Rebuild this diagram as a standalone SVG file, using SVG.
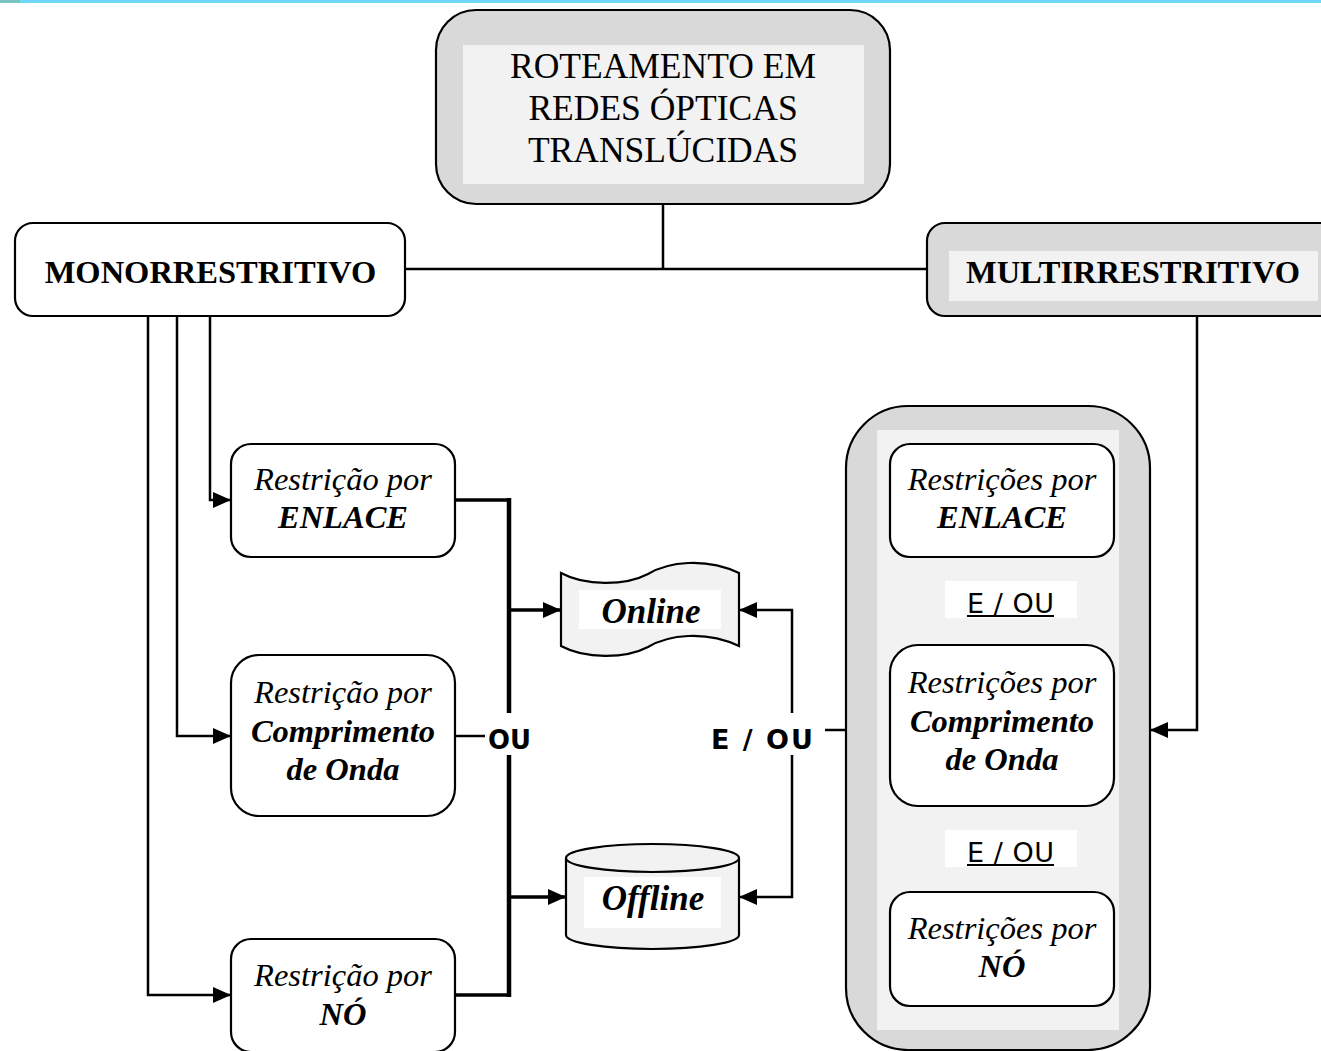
<svg xmlns="http://www.w3.org/2000/svg" width="1321" height="1051" viewBox="0 0 1321 1051">
<style>
.box{fill:#fff;stroke:#000;stroke-width:2.2}
.gbox{fill:#d9d9d9;stroke:#000;stroke-width:2.2}
.pane{fill:#f2f2f2}
.wpane{fill:#fff}
.ser{font-family:"Liberation Serif","Times New Roman",serif;fill:#000;text-anchor:middle}
.it{font-style:italic;font-size:32.5px}
.bi{font-style:italic;font-weight:bold;font-size:32.5px}
.big{font-size:35.5px}
.hd{font-weight:bold;font-size:32.5px}
.san{font-family:"DejaVu Sans","Liberation Sans",sans-serif;fill:#000;font-size:27px}
.ul{stroke:#000;stroke-width:2.2}
.c{fill:none;stroke:#000;stroke-width:2.5}
.ct{fill:none;stroke:#000;stroke-width:3.5}
.cb{fill:none;stroke:#000;stroke-width:4.5}
</style>
<defs>
<marker id="ah" markerUnits="userSpaceOnUse" markerWidth="19" markerHeight="17" refX="18" refY="8" orient="auto">
<path d="M0,0 L18,8 L0,16 z" fill="#000"/>
</marker>
</defs>
<rect x="0" y="0" width="1321" height="3" fill="#6ed8f7"/>
<rect x="0" y="0" width="20" height="3" fill="#7cc4c0"/>

<g id="connectors">
<path class="c" d="M663,204 V269 M405,269 H927"/>
<path class="c" d="M210,316 V500 H231" marker-end="url(#ah)"/>
<path class="c" d="M177,316 V736 H231" marker-end="url(#ah)"/>
<path class="c" d="M148,316 V995 H231" marker-end="url(#ah)"/>
<path class="c" d="M1197,316 V730 H1150" marker-end="url(#ah)"/>
<path class="ct" d="M455,500 H509"/>
<path class="ct" d="M455,995 H509"/>
<path class="c" d="M455,736 H485"/>
<path class="cb" d="M509,498 V713 M509,755 V997"/>
<path class="ct" d="M509,610 H561" marker-end="url(#ah)"/>
<path class="ct" d="M509,897 H566" marker-end="url(#ah)"/>
<path class="c" d="M846,730 H825"/>
<path class="c" d="M792,713 V610 H739" marker-end="url(#ah)"/>
<path class="c" d="M792,755 V897 H739" marker-end="url(#ah)"/>
<text class="san" x="488" y="749" font-weight="bold" textLength="43" lengthAdjust="spacingAndGlyphs">OU</text>
<text class="san" x="711" y="749" font-weight="bold" textLength="102" lengthAdjust="spacing">E / OU</text>
</g>

<g id="root">
<rect class="gbox" x="436" y="10" width="454" height="194" rx="40"/>
<rect class="pane" x="463" y="45" width="401" height="139"/>
<text class="ser big" x="663" y="78">ROTEAMENTO EM</text>
<text class="ser big" x="663" y="120">REDES ÓPTICAS</text>
<text class="ser big" x="663" y="162">TRANSLÚCIDAS</text>
</g>

<g id="mono">
<rect class="box" x="15" y="223" width="390" height="93" rx="18"/>
<text class="ser hd" x="210.5" y="283">MONORRESTRITIVO</text>
</g>

<g id="multi">
<rect class="gbox" x="927" y="223" width="420" height="93" rx="18"/>
<rect class="pane" x="949" y="251" width="369" height="50"/>
<text class="ser hd" x="1133" y="283">MULTIRRESTRITIVO</text>
</g>

<g id="l-enlace">
<rect class="box" x="231" y="444" width="224" height="113" rx="20"/>
<text class="ser it" x="343" y="490">Restrição por</text>
<text class="ser bi" x="343" y="528">ENLACE</text>
</g>

<g id="l-onda">
<rect class="box" x="231" y="655" width="224" height="161" rx="28"/>
<text class="ser it" x="343" y="703">Restrição por</text>
<text class="ser bi" x="343" y="742">Comprimento</text>
<text class="ser bi" x="343" y="780">de Onda</text>
</g>

<g id="l-no">
<rect class="box" x="231" y="939" width="224" height="113" rx="20"/>
<text class="ser it" x="343" y="986">Restrição por</text>
<text class="ser bi" x="343" y="1025">NÓ</text>
</g>

<g id="online">
<path d="M561,573 C585,586 625,586 648,574 C668,562 705,557 739,573 L739,646 C705,630 668,635 648,647 C625,659 585,659 561,646 Z" fill="#f2f2f2" stroke="#000" stroke-width="2.2"/>
<rect class="wpane" x="579" y="590" width="142" height="39"/>
<text class="ser bi" x="651" y="623" style="font-size:35px">Online</text>
</g>

<g id="offline">
<path d="M566,858 V935 A86.5,14 0 0 0 739,935 V858" fill="#f2f2f2" stroke="#000" stroke-width="2.2"/>
<ellipse cx="652.5" cy="858" rx="86.5" ry="14" fill="#f2f2f2" stroke="#000" stroke-width="2.2"/>
<rect class="wpane" x="584" y="877" width="137" height="51"/>
<text class="ser bi" x="653" y="910" style="font-size:35px">Offline</text>
</g>

<g id="multi-group">
<rect class="gbox" x="846" y="406" width="304" height="644" rx="62"/>
<rect class="pane" x="877" y="430" width="242" height="600"/>
</g>

<g id="r-enlace">
<rect class="box" x="890" y="444" width="224" height="113" rx="20"/>
<text class="ser it" x="1002" y="490">Restrições por</text>
<text class="ser bi" x="1002" y="528">ENLACE</text>
</g>

<g id="and-or-1">
<rect class="wpane" x="945" y="581" width="132" height="37"/>
<text class="san" x="967" y="613" textLength="87" lengthAdjust="spacing">E / OU</text>
<line class="ul" x1="967" y1="616" x2="1054" y2="616"/>
</g>

<g id="r-onda">
<rect class="box" x="890" y="645" width="224" height="161" rx="28"/>
<text class="ser it" x="1002" y="693">Restrições por</text>
<text class="ser bi" x="1002" y="732">Comprimento</text>
<text class="ser bi" x="1002" y="770">de Onda</text>
</g>

<g id="and-or-2">
<rect class="wpane" x="945" y="830" width="132" height="37"/>
<text class="san" x="967" y="862" textLength="87" lengthAdjust="spacing">E / OU</text>
<line class="ul" x1="967" y1="865" x2="1054" y2="865"/>
</g>

<g id="r-no">
<rect class="box" x="890" y="892" width="224" height="114" rx="20"/>
<text class="ser it" x="1002" y="939">Restrições por</text>
<text class="ser bi" x="1002" y="977">NÓ</text>
</g>
</svg>
